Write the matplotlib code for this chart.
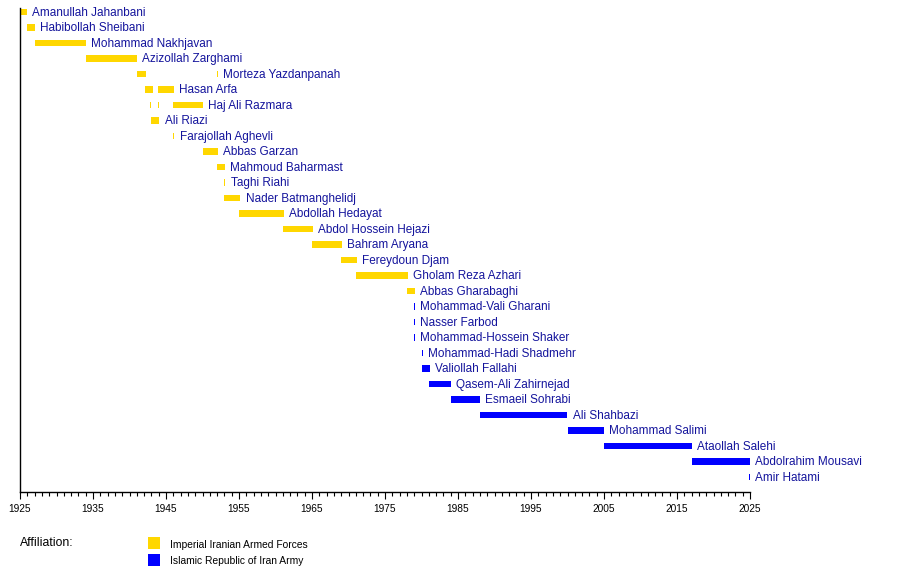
import matplotlib
matplotlib.use("Agg")
import matplotlib.pyplot as plt
from matplotlib.patches import Rectangle

plt.rcParams['font.family'] = ['Liberation Sans', 'DejaVu Sans']

# chiefs of staff, top to bottom
names = ["Amanullah Jahanbani", "Habibollah Sheibani", "Mohammad Nakhjavan",
         "Azizollah Zarghami", "Morteza Yazdanpanah", "Hasan Arfa",
         "Haj Ali Razmara", "Ali Riazi", "Farajollah Aghevli", "Abbas Garzan",
         "Mahmoud Baharmast", "Taghi Riahi", "Nader Batmanghelidj",
         "Abdollah Hedayat", "Abdol Hossein Hejazi", "Bahram Aryana",
         "Fereydoun Djam", "Gholam Reza Azhari", "Abbas Gharabaghi",
         "Mohammad-Vali Gharani", "Nasser Farbod", "Mohammad-Hossein Shaker",
         "Mohammad-Hadi Shadmehr", "Valiollah Fallahi", "Qasem-Ali Zahirnejad",
         "Esmaeil Sohrabi", "Ali Shahbazi", "Mohammad Salimi",
         "Ataollah Salehi", "Abdolrahim Mousavi", "Amir Hatami"]

# terms in office (start, end) in years; some people served more than once
terms = [
    [(1925.0, 1926.0)],
    [(1926.0, 1927.1)],
    [(1927.0, 1934.0)],
    [(1934.0, 1941.0)],
    [(1941.0, 1942.2), (1952.0, 1952.15)],
    [(1942.1, 1943.2), (1943.9, 1946.1)],
    [(1942.85, 1943.0), (1943.85, 1944.0), (1946.0, 1950.1)],
    [(1943.0, 1944.1)],
    [(1946.0, 1946.15)],
    [(1950.0, 1952.1)],
    [(1952.0, 1953.1)],
    [(1953.0, 1953.15)],
    [(1953.0, 1955.2)],
    [(1955.0, 1961.1)],
    [(1961.0, 1965.1)],
    [(1965.0, 1969.1)],
    [(1969.0, 1971.1)],
    [(1971.0, 1978.1)],
    [(1978.0, 1979.1)],
    [(1979.0, 1979.15)],
    [(1979.0, 1979.15)],
    [(1979.0, 1979.15)],
    [(1980.0, 1980.15)],
    [(1980.0, 1981.1)],
    [(1981.0, 1984.0)],
    [(1984.0, 1988.0)],
    [(1988.0, 2000.0)],
    [(2000.0, 2005.0)],
    [(2005.0, 2017.0)],
    [(2017.0, 2025.0)],
    [(2024.9, 2025.05)],
]

# 0 = Imperial, 1 = Islamic Republic
affiliation = [0] * 19 + [1] * 12
groups = ["Imperial Iranian Armed Forces", "Islamic Republic of Iran Army"]
group_colors = ["#FFD700", "#0000FF"]
text_color = "#14149c"

fig = plt.figure(figsize=(9, 5.7), dpi=100)
ax = fig.add_axes([20 / 900, 1 - 492 / 570, 730 / 900, 484 / 570])

bar_h = 0.4
for i, (name, segs) in enumerate(zip(names, terms)):
    c = group_colors[affiliation[i]]
    for s, e in segs:
        ax.add_patch(Rectangle((s, i - bar_h / 2), e - s, bar_h,
                               facecolor=c, edgecolor='none', clip_on=False))
    last = segs[-1][1]
    ax.text(last + 0.7, i + 0.05, name, va='center', ha='left', fontsize=8.5,
            color=text_color, clip_on=False)

ax.set_xlim(1925, 2025)
ax.set_ylim(30.97, -0.26)
ax.set_xticks(range(1925, 2026, 10))
ax.set_xticks(range(1925, 2026, 1), minor=True)
ax.set_yticks([])
ax.tick_params(axis='x', which='major', length=5, width=0.8, labelsize=7.3, pad=4)
ax.tick_params(axis='x', which='minor', length=3, width=0.8)
for sp in ['top', 'right']:
    ax.spines[sp].set_visible(False)
for sp in ['left', 'bottom']:
    ax.spines[sp].set_linewidth(1.0)

# legend
fig.text(20 / 900, 1 - 543 / 570, "Affiliation:", fontsize=8.8, va='center', ha='left')
for k, (g, c) in enumerate(zip(groups, group_colors)):
    yc = 543 + k * 16.5
    fig.patches.append(Rectangle((148 / 900, 1 - (yc + 6) / 570), 12 / 900, 12 / 570,
                                 facecolor=c, edgecolor='none',
                                 transform=fig.transFigure, figure=fig))
    fig.text(170 / 900, 1 - (yc + 2) / 570, g, fontsize=7.4, va='center', ha='left')

fig.savefig("out.png", dpi=100)
